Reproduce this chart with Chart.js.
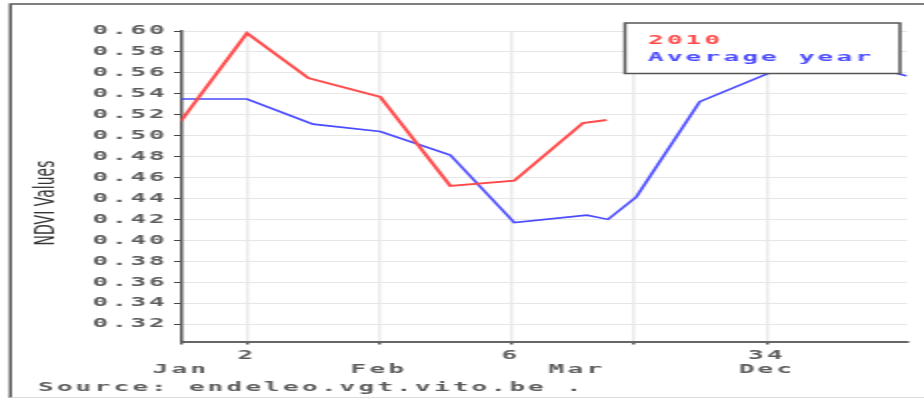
<!DOCTYPE html>
<html>
<head>
<meta charset="utf-8">
<title>NDVI Values</title>
<script src="https://cdn.jsdelivr.net/npm/chart.js@4.4.0/dist/chart.umd.min.js"></script>
<style>
    html, body { margin: 0; padding: 0; background: #fff; }
    #ndviChart { display: block; }
</style>
</head>
<body>
<!-- the original chart is a narrow image shown stretched to twice its width -->
<canvas id="ndviChart" width="462" height="398" style="width: 924px; height: 398px;"></canvas>
<script>
// Data (x in the original axis units, 0 = Jan)
const red2010X = [0, 1, 1.93, 3.02, 4.08, 5.05, 6.09, 6.45];
const red2010Y = [0.514, 0.598, 0.555, 0.537, 0.452, 0.457, 0.512, 0.515];
const avgYearX = [0, 1, 2, 3.02, 4.08, 5.05, 6.15, 6.47, 6.9, 7.86, 8.88, 9.9, 11];
const avgYearY = [0.535, 0.535, 0.511, 0.504, 0.4815, 0.417, 0.424, 0.42, 0.4415, 0.5325, 0.559, 0.575, 0.557];

// Axis ticks
const yTicks = [0.32, 0.34, 0.36, 0.38, 0.40, 0.42, 0.44, 0.46, 0.48, 0.50, 0.52, 0.54, 0.56, 0.58, 0.60];
const xTickPos = [0, 1, 3, 5, 6, 6.85, 8.88];
const xTickTop = ['', '2', '', '6', '', '', '34'];
const xTickBottom = ['Jan', '', 'Feb', '', 'Mar', '', 'Dec'];
const xTickMarked = [true, true, true, true, false, true, true];

const legendLabels = ['2010', 'Average year'];
const sourceText = 'Source: endeleo.vgt.vito.be .';
const yTitle = 'NDVI Values';

const monoFont = { family: "'DejaVu Sans Mono', monospace", size: 13, weight: 'bold' };
const textColor = '#5c5c5c';
const redColor = '#ff4a4a';
const blueColor = '#4a4aff';

// Frame, legend box, axis title and source line
const chartDecor = {
    id: 'chartDecor',
    beforeDraw(chart) {
        chart.ctx.letterSpacing = '1.6px';
    },
    afterDraw(chart) {
        const ctx = chart.ctx;
        ctx.save();

        // outer frame
        ctx.strokeStyle = '#555';
        ctx.lineWidth = 1.5;
        ctx.beginPath();
        ctx.moveTo(5.25, 398);
        ctx.lineTo(5.25, 4);
        ctx.lineTo(462, 4);
        ctx.stroke();
        ctx.strokeStyle = '#ddd';
        ctx.lineWidth = 1;
        ctx.beginPath();
        ctx.moveTo(5.25, 397.5);
        ctx.lineTo(462, 397.5);
        ctx.stroke();

        // legend box (sits over the plot)
        ctx.fillStyle = '#fff';
        ctx.fillRect(312.5, 23, 137.5, 50.5);
        ctx.strokeStyle = '#555';
        ctx.lineWidth = 1.5;
        ctx.strokeRect(312.5, 23, 137.5, 50.5);

        ctx.font = "bold 13px 'DejaVu Sans Mono', monospace";
        ctx.textAlign = 'left';
        ctx.textBaseline = 'middle';
        ctx.fillStyle = redColor;
        ctx.fillText(legendLabels[0], 324, 41);
        ctx.fillStyle = blueColor;
        ctx.fillText(legendLabels[1], 324, 57.5);

        // source line
        ctx.fillStyle = textColor;
        ctx.fillText(sourceText, 19, 388);

        // y axis title
        ctx.letterSpacing = '0px';
        ctx.translate(23, 203);
        ctx.rotate(-Math.PI / 2);
        ctx.textAlign = 'center';
        ctx.font = "14px 'DejaVu Sans', sans-serif";
        ctx.fillStyle = '#333';
        ctx.fillText(yTitle, 0, 0);

        ctx.restore();
    }
};

const ctx = document.getElementById('ndviChart').getContext('2d');
const ndviChart = new Chart(ctx, {
    type: 'line',
    data: {
        datasets: [
            {
                label: legendLabels[0],
                data: red2010X.map((x, i) => ({ x: x, y: red2010Y[i] })),
                borderColor: redColor,
                borderWidth: 2,
                pointRadius: 0,
                tension: 0,
                fill: false
            },
            {
                label: legendLabels[1],
                data: avgYearX.map((x, i) => ({ x: x, y: avgYearY[i] })),
                borderColor: blueColor,
                borderWidth: 1.6,
                pointRadius: 0,
                tension: 0,
                fill: false
            }
        ]
    },
    options: {
        responsive: false,
        animation: false,
        layout: {
            padding: { top: 31, right: 8.5, bottom: 12.5, left: 0 }
        },
        plugins: {
            legend: { display: false },
            tooltip: { enabled: false },
            title: { display: false }
        },
        scales: {
            x: {
                type: 'linear',
                min: 0,
                max: 11,
                afterBuildTicks: (scale) => {
                    scale.ticks = xTickPos.map(v => ({ value: v }));
                },
                afterFit: (scale) => {
                    scale.height = 44;
                },
                grid: {
                    color: (c) => xTickMarked[c.index] ? '#ebebeb' : 'rgba(0,0,0,0)',
                    tickColor: (c) => xTickMarked[c.index] ? '#555' : 'rgba(0,0,0,0)',
                    lineWidth: 1.5,
                    tickLength: 3,
                    tickWidth: 1.5
                },
                border: { color: '#666', width: 2 },
                ticks: {
                    autoSkip: false,
                    maxRotation: 0,
                    padding: 4,
                    color: textColor,
                    font: { family: monoFont.family, size: 13, weight: 'bold', lineHeight: 14 / 13 },
                    callback: function (value, index) {
                        return [xTickTop[index], xTickBottom[index]];
                    }
                }
            },
            y: {
                type: 'linear',
                min: 0.3033,
                max: 0.60,
                afterBuildTicks: (scale) => {
                    scale.ticks = yTicks.map(v => ({ value: v }));
                },
                afterFit: (scale) => {
                    scale.width = 90.5;
                },
                grid: {
                    color: '#e6e6e6',
                    lineWidth: 1,
                    tickColor: '#444',
                    tickLength: 3.5
                },
                border: { color: '#555', width: 1.5 },
                ticks: {
                    padding: 3,
                    color: textColor,
                    font: monoFont,
                    callback: function (value) {
                        return value.toFixed(2);
                    }
                }
            }
        }
    },
    plugins: [chartDecor]
});
</script>
</body>
</html>
